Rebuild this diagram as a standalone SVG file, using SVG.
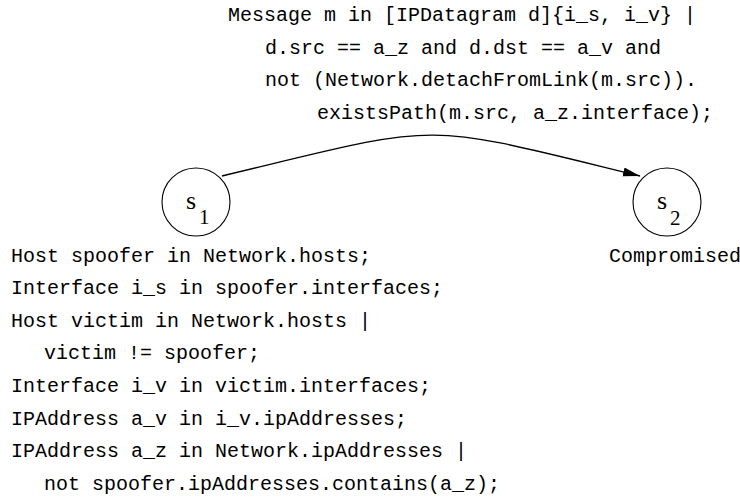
<svg xmlns="http://www.w3.org/2000/svg" width="740" height="503" viewBox="0 0 740 503">
  <style>
    .code { font-family: "Liberation Mono", "Courier New", monospace; font-size: 20px; fill: #000; }
    .state { fill: #fff; stroke: #000; stroke-width: 1.1; }
    .sym { font-family: "Liberation Serif", "Times New Roman", serif; fill: #000; }
    .edge { fill: none; stroke: #000; stroke-width: 1.3; }
  </style>
  <defs>
    <marker id="arrow" markerUnits="userSpaceOnUse" markerWidth="18" markerHeight="10" refX="17" refY="5" orient="auto">
      <path d="M0,0.5 L17,5 L0,9.5 Z" fill="#000"/>
    </marker>
  </defs>
  <rect width="740" height="503" fill="#fff"/>

  <!-- transition s1 -> s2 -->
  <g id="connectors">
    <path class="edge" d="M222,176 C447,122 415,121 640,176" marker-end="url(#arrow)"/>
    <g class="code">
      <text x="228" y="21">Message m in [IPDatagram d]{i_s, i_v} |</text>
      <text x="265" y="53.5">d.src == a_z and d.dst == a_v and</text>
      <text x="265" y="86">not (Network.detachFromLink(m.src)).</text>
      <text x="317" y="118.5">existsPath(m.src, a_z.interface);</text>
    </g>
  </g>

  <!-- initial state with its bindings -->
  <g id="s1">
    <circle class="state" cx="196" cy="202" r="34"/>
    <text class="sym" x="186" y="209" font-size="26">s</text>
    <text class="sym" x="199" y="223.5" font-size="21">1</text>
    <g class="code">
      <text x="11" y="261.5">Host spoofer in Network.hosts;</text>
      <text x="11" y="294.1">Interface i_s in spoofer.interfaces;</text>
      <text x="11" y="326.7">Host victim in Network.hosts |</text>
      <text x="44" y="359.3">victim != spoofer;</text>
      <text x="11" y="391.9">Interface i_v in victim.interfaces;</text>
      <text x="11" y="424.5">IPAddress a_v in i_v.ipAddresses;</text>
      <text x="11" y="457.1">IPAddress a_z in Network.ipAddresses |</text>
      <text x="44" y="489.7">not spoofer.ipAddresses.contains(a_z);</text>
    </g>
  </g>

  <!-- final state -->
  <g id="s2">
    <circle class="state" cx="667" cy="202" r="34"/>
    <text class="sym" x="657" y="208.5" font-size="26">s</text>
    <text class="sym" x="670" y="224.5" font-size="21">2</text>
    <text class="code" x="609" y="261.5">Compromised</text>
  </g>
</svg>
